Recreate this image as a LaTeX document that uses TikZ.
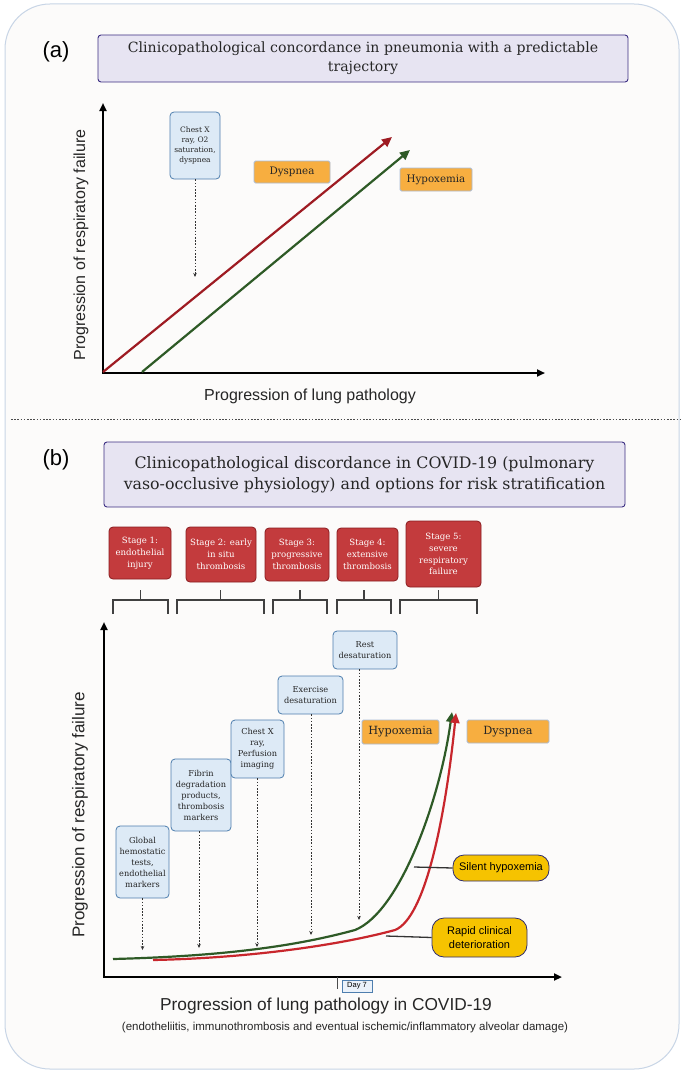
\documentclass[tikz,border=0pt]{standalone}
\usepackage{xcolor}
\usepackage{fontspec}
\setmainfont{DejaVu Serif}
\newfontfamily\labelsans{Liberation Sans}
\usepackage{tikz}
\usetikzlibrary{arrows.meta, positioning, calc}
\definecolor{panelbg}{HTML}{FCFBFA}
\definecolor{paneledge}{HTML}{C8D5E6}
\definecolor{titlefill}{HTML}{E7E4F2}
\definecolor{titleedge}{HTML}{3C2E82}
\definecolor{testfill}{HTML}{DDEAF6}
\definecolor{testedge}{HTML}{4E7EAE}
\definecolor{stagefill}{HTML}{C33B3D}
\definecolor{stageedge}{HTML}{8A1C20}
\definecolor{symfill}{HTML}{F7AE40}
\definecolor{symedge}{HTML}{A9BBD6}
\definecolor{pillfill}{HTML}{F6C300}
\definecolor{pilledge}{HTML}{2F2C6E}
\definecolor{redline}{HTML}{9E1B22}
\definecolor{redcurve}{HTML}{C8262C}
\definecolor{greenline}{HTML}{2E5A26}

\tikzset{
  titlebox/.style={draw=titleedge, fill=titlefill, line width=0.9pt, rounded corners=3pt,
    align=center, text=black!85, font=\fontsize{14.1}{19}\selectfont},
  testbox/.style={draw=testedge, fill=testfill, line width=0.8pt, rounded corners=4pt,
    align=center, inner sep=1pt, text=black!85, font=\fontsize{8.2}{11}\selectfont},
  stagebox/.style={draw=stageedge, fill=stagefill, line width=0.8pt, rounded corners=4pt,
    align=center, inner sep=1pt, text=white, font=\fontsize{8.6}{11.8}\selectfont},
  symbox/.style={draw=symedge, fill=symfill, line width=0.8pt, rounded corners=1.5pt,
    inner sep=1pt, text=black!85},
  notepill/.style={draw=pilledge, fill=pillfill, line width=0.8pt, rounded corners=11pt,
    align=center, inner sep=1pt, font=\labelsans\fontsize{11}{14}\selectfont},
  axislabel/.style={font=\labelsans\fontsize{16}{18}\selectfont, text=black!85},
  axisline/.style={line width=2pt, {Triangle[length=8pt,width=7pt]}-{Triangle[length=8pt,width=7pt]}},
  trend/.style={line width=2.2pt, -{Triangle[length=10pt,width=9pt]}},
  probe/.style={line width=0.8pt, black!80, dash pattern=on 1.6pt off 1.6pt,
    -{Stealth[length=4pt,width=3.5pt]}},
  bracket/.style={line width=1.3pt, black!75},
  leader/.style={line width=1.3pt, black!80}
}

\begin{document}
\begin{tikzpicture}[x=1pt, y=-1pt]
  \useasboundingbox (0,0) rectangle (684,1073);
  \fill[white] (0,0) rectangle (684,1073);
  \draw[draw=paneledge, fill=panelbg, line width=1pt, rounded corners=45pt] (5,4) rectangle (679,1069);

  % panel (a)
  \node[font=\labelsans\fontsize{22}{24}\selectfont] (taga) at (56,52) {(a)};
  \node[titlebox, minimum width=530pt, minimum height=47pt] (titlea) at (363,58.5)
    {Clinicopathological concordance in pneumonia with a predictable\\trajectory};

  \coordinate (oa) at (103,373);
  \coordinate (ya) at (103,103);
  \coordinate (xa) at (545,373);
  \draw[axisline] (ya) -- (oa) -- (xa);
  \node[axislabel, rotate=90] (ylaba) at (81,245) {Progression of respiratory failure};
  \node[axislabel] (xlaba) at (310,396) {Progression of lung pathology};

  \node[testbox, minimum width=50pt, minimum height=67pt, font=\fontsize{7.5}{10.3}\selectfont]
    (cxra) at (195,145.5) {Chest X\\ray, O2\\saturation,\\dyspnea};
  \coordinate (cxraend) at (195,277);
  \draw[probe] (cxra.south) -- (cxraend);

  \coordinate (ra0) at (103,372);
  \coordinate (ra1) at (392,137);
  \coordinate (ga0) at (142,372);
  \coordinate (ga1) at (410,150);
  \draw[trend, redline] (ra0) -- (ra1);
  \draw[trend, greenline] (ga0) -- (ga1);

  \node[symbox, minimum width=76pt, minimum height=22pt, font=\fontsize{10.3}{12}\selectfont]
    (dysa) at (292,172) {Dyspnea};
  \node[symbox, minimum width=72pt, minimum height=23pt, font=\fontsize{10.3}{12}\selectfont]
    (hypa) at (436,179.5) {Hypoxemia};

  \draw[line width=0.8pt, black!70, dash pattern=on 1.6pt off 1.6pt] (11,419) -- (682,419);

  % panel (b)
  \node[font=\labelsans\fontsize{22}{24}\selectfont] (tagb) at (56,460) {(b)};
  \node[titlebox, minimum width=521pt, minimum height=65pt, font=\fontsize{15.8}{21}\selectfont]
    (titleb) at (364.5,474.5)
    {Clinicopathological discordance in COVID-19 (pulmonary\\vaso-occlusive physiology) and options for risk stratification};

  \node[stagebox, minimum width=62pt, minimum height=52pt] (s1) at (140,553) {Stage 1:\\endothelial\\injury};
  \node[stagebox, minimum width=70pt, minimum height=55pt] (s2) at (221,554.5) {Stage 2: early\\in situ\\thrombosis};
  \node[stagebox, minimum width=64pt, minimum height=53pt] (s3) at (297,554.5) {Stage 3:\\progressive\\thrombosis};
  \node[stagebox, minimum width=61pt, minimum height=53pt] (s4) at (367.5,554.5) {Stage 4:\\extensive\\thrombosis};
  \node[stagebox, minimum width=75pt, minimum height=66pt] (s5) at (443.5,554) {Stage 5:\\severe\\respiratory\\failure};

  \foreach \l/\r in {113/168, 177/264, 273/327, 337/391, 400/477} {
    \draw[bracket] ({(\l+\r)/2},590) -- ({(\l+\r)/2},600)
      (\l,614) -- (\l,600) -- (\r,600) -- (\r,614);
  }

  \coordinate (ob) at (104,977);
  \coordinate (yb) at (104,622);
  \coordinate (xb) at (562,977);
  \draw[axisline] (yb) -- (ob) -- (xb);
  \node[axislabel, rotate=90, font=\labelsans\fontsize{17}{19}\selectfont] (ylabb) at (80,815)
    {Progression of respiratory failure};
  \node[axislabel, font=\labelsans\fontsize{17.3}{19}\selectfont] (xlabb) at (326,1006)
    {Progression of lung pathology in COVID-19};
  \node[font=\labelsans\fontsize{11.5}{13}\selectfont, text=black!85] (noteb) at (345,1028)
    {(endotheliitis, immunothrombosis and eventual ischemic/inflammatory alveolar damage)};

  \coordinate (d7) at (337,977);
  \draw[line width=1pt, black!70] (d7) -- ++(0,12);
  \node[draw=testedge, fill=testfill!60, line width=0.6pt, inner sep=1pt, minimum width=30pt,
    minimum height=12pt, font=\labelsans\fontsize{7.5}{8}\selectfont] (day7) at (357,986) {Day 7};

  % tests
  \node[testbox, minimum width=53pt, minimum height=72pt] (glob) at (142.5,862)
    {Global\\hemostatic\\tests,\\endothelial\\markers};
  \node[testbox, minimum width=60pt, minimum height=72pt] (fib) at (201,795)
    {Fibrin\\degradation\\products,\\thrombosis\\markers};
  \node[testbox, minimum width=53pt, minimum height=58pt] (cxrb) at (257.5,749)
    {Chest X\\ray,\\Perfusion\\imaging};
  \node[testbox, minimum width=65pt, minimum height=38pt] (exer) at (310.5,695)
    {Exercise\\desaturation};
  \node[testbox, minimum width=64pt, minimum height=38pt] (rest) at (365,650)
    {Rest\\desaturation};

  \coordinate (globend) at (142,950);
  \coordinate (fibend) at (199,948);
  \coordinate (cxrbend) at (257,947);
  \coordinate (exerend) at (311,935);
  \coordinate (restend) at (359,920);
  \draw[probe] (glob.south) -- (glob.south |- globend);
  \draw[probe] (fibend |- fib.south) -- (fibend);
  \draw[probe] (cxrbend |- cxrb.south) -- (cxrbend);
  \draw[probe] (exerend |- exer.south) -- (exerend);
  \draw[probe] (restend |- rest.south) -- (restend);

  % curves
  \coordinate (g0) at (113,959);
  \coordinate (gk) at (355,930);
  \coordinate (g1) at (452,712);
  \coordinate (r0) at (153,960);
  \coordinate (rk) at (395,930);
  \coordinate (r1) at (456,713);
  \draw[trend, greenline] (g0) .. controls (230,956) and (300,945) .. (gk)
    .. controls (400,912) and (440,800) .. (g1);
  \draw[trend, redcurve] (r0) .. controls (250,958) and (340,945) .. (rk)
    .. controls (425,918) and (445,820) .. (r1);

  \node[symbox, minimum width=77pt, minimum height=24pt, font=\fontsize{11.3}{13}\selectfont]
    (hypb) at (400.5,732) {Hypoxemia};
  \node[symbox, minimum width=82pt, minimum height=23pt, font=\fontsize{11.3}{13}\selectfont]
    (dysb) at (508,731.5) {Dyspnea};

  \node[notepill, minimum width=96pt, minimum height=26pt] (silent) at (501,868) {Silent hypoxemia};
  \node[notepill, minimum width=95pt, minimum height=39pt, rounded corners=12pt] (rapid) at (479.5,937.5)
    {Rapid clinical\\deterioration};
  \coordinate (silentend) at (414,867);
  \coordinate (rapidend) at (386,936);
  \draw[leader] (silentend) -- (silent.west);
  \draw[leader] (rapidend) -- (rapid.west);
\end{tikzpicture}
\end{document}
